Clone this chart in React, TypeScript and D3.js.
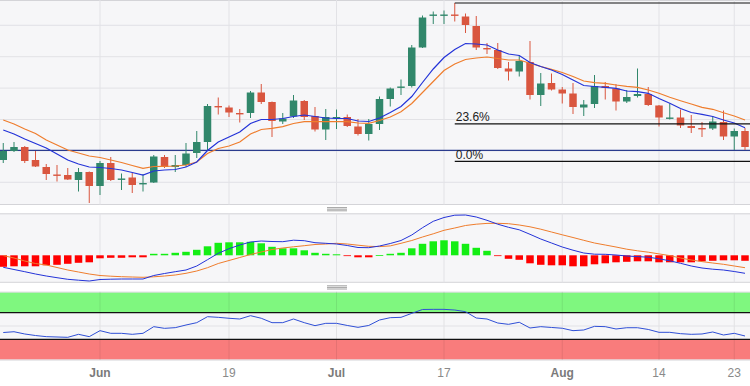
import React from 'react';
import * as d3 from 'd3';

// trading days shown on the chart
const dates = [
  '2023-05-19', '2023-05-22', '2023-05-23', '2023-05-24', '2023-05-25', '2023-05-26', '2023-05-29', '2023-05-30', '2023-05-31',
  '2023-06-01', '2023-06-02', '2023-06-05', '2023-06-06', '2023-06-07', '2023-06-08', '2023-06-09', '2023-06-12', '2023-06-13',
  '2023-06-14', '2023-06-15', '2023-06-16', '2023-06-19', '2023-06-20', '2023-06-21', '2023-06-22', '2023-06-23', '2023-06-26',
  '2023-06-27', '2023-06-28', '2023-06-29', '2023-06-30', '2023-07-03', '2023-07-04', '2023-07-05', '2023-07-06', '2023-07-07',
  '2023-07-10', '2023-07-11', '2023-07-12', '2023-07-13', '2023-07-14', '2023-07-17', '2023-07-18', '2023-07-19', '2023-07-20',
  '2023-07-21', '2023-07-24', '2023-07-25', '2023-07-26', '2023-07-27', '2023-07-28', '2023-07-31', '2023-08-01', '2023-08-02',
  '2023-08-03', '2023-08-04', '2023-08-07', '2023-08-08', '2023-08-09', '2023-08-10', '2023-08-11', '2023-08-14', '2023-08-15',
  '2023-08-16', '2023-08-17', '2023-08-18', '2023-08-21', '2023-08-22', '2023-08-23', '2023-08-24',
];

const open = [44, 53, 57, 44, 37, 29.5, 29, 24, 32, 18, 41, 24.5, 26.5, 20, 21.5, 47, 37, 39, 51, 62,
  98, 96.5, 91, 91, 111.5, 102, 82.5, 87.5, 103, 88, 74.5, 86, 87, 77.5, 70, 80, 105, 116.5, 118, 156.5,
  188.5, 188.5, 189.5, 187.5, 178, 156, 154, 135.5, 132.5, 142, 109, 121, 114.5, 110.5, 96.5, 100, 118, 115.5, 102.5, 108,
  110, 98.5, 85.5, 86.5, 78, 76, 75.5, 82, 67.5, 73];
const high = [61, 62, 58, 53, 40, 39, 36, 36, 32.5, 43, 47, 30.5, 31, 30, 49, 49, 49, 61, 73, 100,
  106.5, 98.5, 95, 113, 120, 102.5, 91, 109, 104, 97, 95, 94.5, 89.5, 85, 85, 107.5, 116.5, 124.5, 159, 188.5,
  192.5, 193.5, 201, 190.5, 188, 161, 161, 142, 149, 163, 131, 130.5, 117, 121, 104, 129, 122, 120, 114, 135.5,
  117, 99, 100.5, 94.5, 89, 82, 88, 93.5, 75.5, 76];
const low = [41, 52, 41, 37, 24, 22.5, 24, 12.5, 1, 9, 23, 14, 11, 12.5, 21, 36, 32, 37, 46, 54,
  89.5, 87, 81.5, 86, 100, 67, 80, 86, 84, 72.5, 64, 75, 77, 68.5, 63.5, 74, 97.5, 109, 116.5, 156,
  180, 180, 182.5, 171, 154, 150, 135, 123.5, 127.5, 104.5, 98, 113.5, 100.5, 90, 88, 96, 104.5, 93.5, 101, 106.5,
  98, 77.5, 84.5, 76, 71, 67, 74, 64, 54, 54];
const close = [53, 57, 43, 37.5, 30, 29, 24.5, 32, 18, 41, 24, 25.5, 19, 21, 47.5, 37, 39, 50.5, 62, 98,
  97, 91.5, 90, 111.5, 102, 83, 85.5, 103.5, 87, 74.5, 87, 87, 78, 70, 80, 105, 115.5, 117.5, 156.5, 186.5,
  189.5, 189.5, 188.5, 179, 156.5, 155.5, 136, 132.5, 143, 109, 120.5, 114.5, 110.5, 97, 99.5, 118, 116, 102.5, 107, 110,
  99, 86.5, 86.5, 78.5, 76, 75, 82.5, 67.5, 73, 57];

const emaFast = [74, 70, 65, 60.5, 56, 50, 44, 40, 37, 36.5, 35.5, 34, 31.5, 29, 33, 34, 34.5, 37, 42, 53.5,
  62, 67, 72, 80.5, 84.5, 84.5, 85.5, 87.5, 89, 87.5, 86, 85.5, 85.5, 83, 82.5, 86, 91.5, 97.5, 107.5, 121.5,
  135, 146.5, 154.5, 160.5, 160, 159, 154, 150, 148.5, 141.5, 137.5, 134, 129.5, 124, 118.5, 117.5, 116.7, 115.7, 113, 112.3,
  110.7, 105.5, 100.7, 95.5, 91.5, 89.7, 87.5, 84, 81, 76.3];
const emaSlow = [84, 80, 75, 70.5, 64, 59, 54, 51, 48, 46.5, 44, 41.5, 38.5, 35.7, 37.5, 37.7, 38, 39, 42, 50.5,
  55.5, 58, 62, 70, 74.5, 75.7, 77.3, 80.5, 82.3, 82.3, 82.3, 82.3, 82.3, 81, 80.7, 83.5, 87, 92.3, 100.5, 111.5,
  122.5, 133.5, 140, 144.5, 146, 147, 145.5, 144, 144, 140.7, 137.5, 134.7, 131.5, 127.5, 123, 121.3, 120.7, 119, 117.7, 116.7,
  114, 110.7, 106.7, 103.3, 100, 96.7, 94.7, 91.3, 88, 84];

const supportLevel = 53.7;
const fibHigh = 201;
const fibLow = 42.7;
const fibRatios = [0, 0.236, 1];
const fibLabels = ['0.0%', '23.6%', ''];
const fibStart = '2023-07-18';

const macdLine = [-12, -14.2, -16.4, -18.7, -20.7, -22.4, -24, -24.9, -25.7, -24.2, -23.9, -23.7, -23.7, -23.7, -20.2, -18.2, -16.4, -14.7, -10.7, -4.4,
  2, 6.6, 10.3, 13.3, 14.3, 13.8, 13.6, 15.1, 14.6, 12.6, 12, 11.3, 9.8, 7.8, 7.6, 9.3, 11.8, 14.8, 20.3, 27.6,
  34, 37.8, 40.1, 40.3, 38.3, 35, 31.1, 28, 25.5, 21, 16.3, 12.3, 8.3, 5.1, 2.3, 1.1, 1, 0.3, -0.7, -1.3,
  -1.9, -3.5, -5.5, -8, -10.7, -12.7, -13.9, -14.7, -16.2, -18];
const signalLine = [-0.3, -2.7, -5.7, -8.2, -9.7, -12.2, -14.7, -16.7, -18.7, -20.2, -20.9, -21.4, -21.7, -22, -21.5, -20.7, -19.7, -18, -15.7, -12.4,
  -8.2, -5.2, -2.2, 0.8, 3.3, 5.8, 7.3, 8.5, 9.6, 10.8, 11.3, 12, 11.3, 10.1, 9, 8.7, 9.4, 12, 14.8, 18.3,
  21.5, 25, 27.3, 29.8, 31.1, 31.9, 32, 31.6, 30.3, 28.5, 26.1, 23.3, 20.5, 17.8, 15, 12.3, 10.3, 8.3, 6.1, 4.5,
  3.1, 1.4, -0.3, -2.7, -4.7, -6.3, -7.7, -9, -10.7, -12.4];
const histogram = [-11.5, -11, -11, -11, -10, -9.5, -8.5, -7.5, -7, -3, -2.5, -2.5, -2, -2, 1.5, 1.5, 2.5, 3.5, 5.5, 9,
  12.5, 13, 13, 13.5, 12, 8.5, 7, 7, 5, 2.5, 1.5, 1, -0.3, -2, -2, 0.3, 1.5, 2.5, 7, 11.5,
  14, 15, 14, 11.5, 7.5, 4.5, -0.3, -3.5, -4.5, -8, -9.5, -10, -10, -11, -11, -9, -8, -7, -6.5, -6,
  -6, -7, -7, -7, -7, -6, -5.5, -5, -5, -5.5];

const rsi = [40.2, 41.4, 38, 35.7, 34, 33.5, 33, 37.5, 34, 43, 39, 39, 37.5, 39, 49, 46.5, 47.5, 51.5, 55, 64,
  63, 61.6, 60.5, 65.5, 61.6, 55, 55, 60.5, 55, 50.5, 54, 54, 50.8, 48, 50.8, 59, 62.5, 63, 69, 74.8,
  75, 75, 74, 71.5, 62, 60.5, 54.5, 52.5, 55.6, 47, 49, 47.8, 46.6, 43, 44, 49.5, 49, 45.5, 47.4, 47.4,
  44.8, 40.5, 40.5, 38.5, 37.5, 38, 41, 36.5, 39, 35];
const rsiLevels = [30, 50, 70];

const tickDates = ['2023-06-01', '2023-06-19', '2023-07-03', '2023-07-17', '2023-08-01', '2023-08-14', '2023-08-23'];
const tickLabels = ['Jun', '19', 'Jul', '17', 'Aug', '14', '23'];
const priceGrid = [21.7, 53.1, 84.5, 115.9, 147.3, 178.7];

const W = 750;
const H = 386;
const GREEN = '#31876b';
const RED = '#d9563f';
const PANEL_BG = '#f6f6f8';
const BORDER = '#d4d4d8';
const GRID = '#e2e2e6';
const FONT = '"Liberation Sans", Arial, sans-serif';

const main = { top: 0, bottom: 204.5 };
const macdPanel = { top: 213.3, bottom: 282.3 };
const rsiPanel = { top: 291.7, bottom: 360 };

export default function App() {
  const x = d3.scaleBand<string>().domain(dates).range([-2.125, 750.375]).padding(0);
  const cx = (d: string) => (x(d) as number) + x.bandwidth() / 2;
  const yPrice = d3.scaleLinear().domain([0, 204]).range([204, 0]);
  const yMacd = d3.scaleLinear().domain([-27, 42]).range([282.3, 213.3]);
  const yRsi = d3.scaleLinear().domain([0, 100]).range([359.3, 292.7]);

  const bodyW = 7.5;

  const priceLine = d3.line<number>().x((_, i) => cx(dates[i])).y((v) => yPrice(v));
  const macdPath = d3.line<number>().x((_, i) => cx(dates[i])).y((v) => yMacd(v));
  const rsiPath = d3.line<number>().x((_, i) => cx(dates[i])).y((v) => yRsi(v));

  const handle = (y: number, key: string) => (
    <g key={key} stroke="#8a8a8a" strokeWidth={0.8}>
      {[0, 1.6, 3.2].map((o) => (
        <line key={o} x1={327} x2={347} y1={y + o} y2={y + o} />
      ))}
    </g>
  );

  const fibX0 = cx(fibStart);

  return (
    <svg width={W} height={H} style={{ position: 'absolute', left: 0, top: 0, background: '#fff' }} fontFamily={FONT}>
      <defs>
        <clipPath id="clipMain">
          <rect x={0} y={main.top} width={W} height={main.bottom - main.top} />
        </clipPath>
      </defs>

      {/* panel backgrounds */}
      {[main, macdPanel, rsiPanel].map((p, i) => (
        <g key={i}>
          <rect x={0} y={p.top} width={W} height={p.bottom - p.top} fill={PANEL_BG} />
          <line x1={0} x2={W} y1={p.top + 0.5} y2={p.top + 0.5} stroke={BORDER} />
          <line x1={0} x2={W} y1={p.bottom} y2={p.bottom} stroke={BORDER} />
        </g>
      ))}
      {handle(207.6, 'h1')}
      {handle(285.8, 'h2')}

      {/* rsi bands */}
      <rect x={0} y={yRsi(100)} width={W} height={yRsi(70) - yRsi(100)} fill="#7ff77f" />
      <rect x={0} y={yRsi(30)} width={W} height={yRsi(0) - yRsi(30)} fill="#f97c7c" />

      {/* grid */}
      {priceGrid.map((g) => (
        <line key={g} x1={0} x2={W} y1={yPrice(g)} y2={yPrice(g)} stroke={GRID} />
      ))}
      {tickDates.map((d) => (
        <g key={d}>
          <line x1={cx(d)} x2={cx(d)} y1={main.top} y2={main.bottom} stroke={GRID} />
          <line x1={cx(d)} x2={cx(d)} y1={macdPanel.top} y2={macdPanel.bottom} stroke={GRID} />
          <line x1={cx(d)} x2={cx(d)} y1={rsiPanel.top} y2={rsiPanel.bottom} stroke="rgba(0,0,0,0.08)" />
        </g>
      ))}
      {rsiLevels.map((l) => (
        <line key={l} x1={0} x2={W} y1={yRsi(l)} y2={yRsi(l)}
          stroke={l === 50 ? GRID : '#111'} strokeWidth={l === 50 ? 1 : 1.2} />
      ))}

      {/* main panel */}
      <g clipPath="url(#clipMain)">
        <line x1={0} x2={W} y1={yPrice(supportLevel)} y2={yPrice(supportLevel)} stroke="#2b3c8e" strokeWidth={1.2} />
        {dates.map((d, i) => {
          const up = close[i] >= open[i];
          const col = up ? GREEN : RED;
          const top = yPrice(Math.max(open[i], close[i]));
          const bot = yPrice(Math.min(open[i], close[i]));
          return (
            <g key={d}>
              <line x1={cx(d)} x2={cx(d)} y1={yPrice(high[i])} y2={yPrice(low[i])} stroke={col} strokeWidth={1} />
              <rect x={cx(d) - bodyW / 2} y={top} width={bodyW} height={Math.max(bot - top, 1.4)} fill={col} />
            </g>
          );
        })}
        <path d={priceLine(emaSlow) || ''} fill="none" stroke="#ef7d2d" strokeWidth={1.2} />
        <path d={priceLine(emaFast) || ''} fill="none" stroke="#2433d8" strokeWidth={1.2} />
        {fibRatios.map((r, i) => {
          const yy = yPrice(fibLow + r * (fibHigh - fibLow));
          return (
            <g key={r}>
              <line x1={fibX0} x2={W} y1={yy} y2={yy} stroke="#111" strokeWidth={1.2} />
              {fibLabels[i] && (
                <text x={fibX0 + 1} y={yy - 2.5} fontSize={12} fill="#222">{fibLabels[i]}</text>
              )}
            </g>
          );
        })}
      </g>

      {/* macd panel */}
      {dates.map((d, i) => {
        const v = histogram[i];
        const y0 = yMacd(0);
        const y1 = yMacd(v);
        return (
          <rect key={d} x={cx(d) - bodyW / 2} y={Math.min(y0, y1)} width={bodyW}
            height={Math.max(Math.abs(y1 - y0), 0.8)} fill={v >= 0 ? '#14ee14' : '#ff0000'} />
        );
      })}
      <path d={macdPath(signalLine) || ''} fill="none" stroke="#ef7d2d" strokeWidth={1} />
      <path d={macdPath(macdLine) || ''} fill="none" stroke="#2433d8" strokeWidth={1} />

      {/* rsi panel */}
      <path d={rsiPath(rsi) || ''} fill="none" stroke="#2f4fd6" strokeWidth={1} />

      {/* x axis labels */}
      {tickDates.map((d, i) => {
        const isMonth = isNaN(Number(tickLabels[i]));
        return (
          <text key={d} x={cx(d)} y={377} textAnchor="middle" fontSize={12}
            fontWeight={isMonth ? 'bold' : 'normal'} fill={isMonth ? '#7a7a7a' : '#8a8a8a'}>
            {tickLabels[i]}
          </text>
        );
      })}
    </svg>
  );
}
